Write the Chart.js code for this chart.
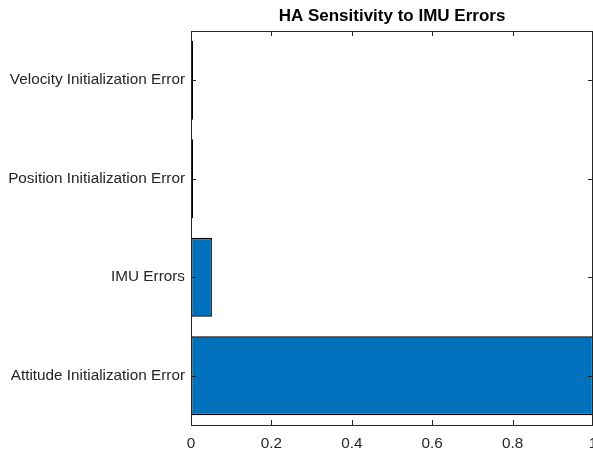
<!DOCTYPE html>
<html>
<head>
<meta charset="utf-8">
<script src="https://cdn.jsdelivr.net/npm/chart.js@4/dist/chart.umd.min.js"></script>
<style>
  html, body { margin: 0; padding: 0; background: #fff; }
  #wrap { width: 593px; height: 450px; position: relative; }
</style>
</head>
<body>
<div id="wrap"><canvas id="chart-ha"></canvas></div>
<script>
// datos (orden MATLAB: de abajo hacia arriba)
const categorias = ["Attitude Initialization Error", "IMU Errors", "Position Initialization Error", "Velocity Initialization Error"];
const sensibilidad = [1.0, 0.052, 0.005, 0.005];
const ticksX = [0, 0.2, 0.4, 0.6, 0.8, 1];
const titulo = "HA Sensitivity to IMU Errors";

const colorTexto = "#262626";
const fuente = "'Liberation Sans', Arial, sans-serif";

// caja de ejes y ticks hacia adentro (estilo MATLAB)
const cajaEjes = {
    id: "cajaEjes",
    afterDatasetsDraw(chart) {
        const { ctx, chartArea: a, scales } = chart;
        ctx.save();
        ctx.strokeStyle = colorTexto;
        ctx.lineWidth = 1;
        ctx.strokeRect(Math.round(a.left) + 0.5, Math.round(a.top) + 0.5,
            Math.round(a.right - a.left) - 1, Math.round(a.bottom - a.top));
        ctx.beginPath();
        const tl = 5;
        ticksX.forEach(v => {
            const x = Math.round(scales.x.getPixelForValue(v)) + 0.5;
            ctx.moveTo(x, a.bottom); ctx.lineTo(x, a.bottom - tl);
            ctx.moveTo(x, a.top); ctx.lineTo(x, a.top + tl);
        });
        categorias.forEach((c, i) => {
            const y = Math.round(scales.y.getPixelForValue(i)) + 0.5;
            ctx.moveTo(a.left, y); ctx.lineTo(a.left + tl, y);
            ctx.moveTo(a.right, y); ctx.lineTo(a.right - tl, y);
        });
        ctx.stroke();

        // titulo
        ctx.fillStyle = "#000";
        ctx.font = "bold 17px " + fuente;
        ctx.textAlign = "center";
        ctx.textBaseline = "middle";
        ctx.fillText(titulo, (a.left + a.right) / 2, 16);
        ctx.restore();
    }
};

const ctx = document.getElementById("chart-ha").getContext("2d");

new Chart(ctx, {
    type: "bar",
    data: {
        labels: categorias,
        datasets: [{
            label: "Sensitivity",
            data: sensibilidad,
            backgroundColor: "#0072BD",
            borderColor: "#000000",
            borderWidth: 1.4,
            borderSkipped: false,
            categoryPercentage: 1,
            barPercentage: 0.8
        }]
    },
    options: {
        indexAxis: "y",
        responsive: true,
        maintainAspectRatio: false,
        animation: false,
        layout: { padding: { top: 31, right: 0, left: 0, bottom: 0 } },
        plugins: {
            legend: { display: false },
            title: { display: false },
            tooltip: { enabled: false }
        },
        scales: {
            x: {
                type: "linear",
                min: 0,
                max: 1,
                grid: { display: false, drawTicks: false },
                border: { display: false },
                afterBuildTicks: axis => { axis.ticks = ticksX.map(v => ({ value: v })); },
                afterFit: axis => { axis.height = 25; axis.paddingLeft = 0; axis.paddingRight = 0; },
                ticks: {
                    color: colorTexto,
                    font: { family: fuente, size: 15.3 },
                    padding: 10,
                    maxRotation: 0,
                    callback: v => String(v)
                }
            },
            y: {
                reverse: true,
                grid: { display: false, drawTicks: false },
                border: { display: false },
                afterFit: axis => { axis.width = 191; },
                ticks: {
                    color: colorTexto,
                    font: { family: fuente, size: 15.3 },
                    padding: 6
                }
            }
        }
    },
    plugins: [cajaEjes]
});
</script>
</body>
</html>
